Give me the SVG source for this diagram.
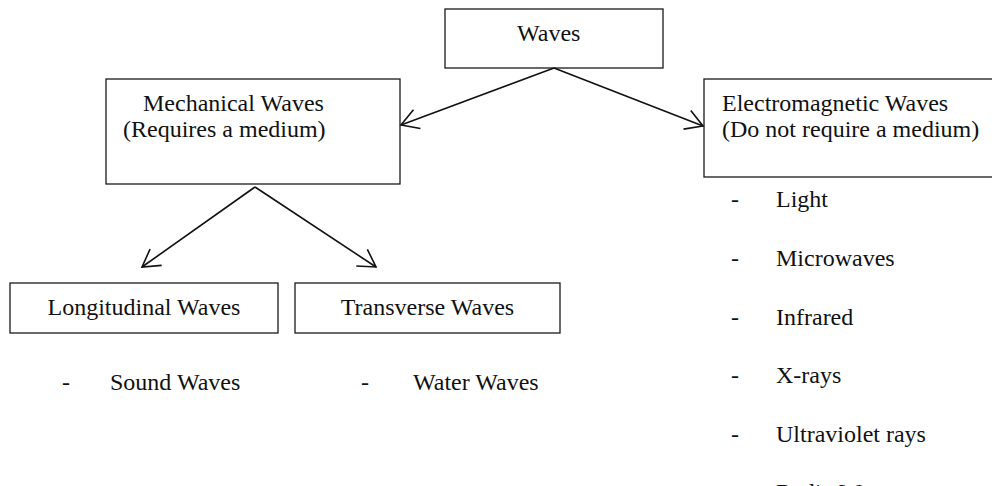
<svg xmlns="http://www.w3.org/2000/svg" width="992" height="486" viewBox="0 0 992 486">
  <style>
    .box { fill: #ffffff; stroke: #1a1a1a; stroke-width: 1.3; }
    .label { font-family: "Liberation Serif", "Times New Roman", serif; font-size: 24px; fill: #111111; }
    .link { fill: none; stroke: #111111; stroke-width: 1.6; }
  </style>
  <defs>
    <marker id="arrow" markerUnits="userSpaceOnUse" viewBox="-20 -12 22 24" refX="0" refY="0" markerWidth="22" markerHeight="24" orient="auto" overflow="visible">
      <path d="M -17 -10 L 0 0 L -17 10" fill="none" stroke="#111111" stroke-width="1.6"/>
    </marker>
  </defs>

  <rect width="992" height="486" fill="#ffffff"/>

  <g id="waves">
    <rect class="box" x="445" y="9" width="218" height="59"/>
    <text class="label" x="517" y="41">Waves</text>
  </g>

  <g id="mechanical">
    <rect class="box" x="106" y="79" width="294" height="105"/>
    <text class="label" x="143" y="111">Mechanical Waves</text>
    <text class="label" x="123" y="137">(Requires a medium)</text>
  </g>

  <g id="electromagnetic">
    <rect class="box" x="704" y="79" width="300" height="98"/>
    <text class="label" x="722" y="111">Electromagnetic Waves</text>
    <text class="label" x="722" y="137">(Do not require a medium)</text>
  </g>

  <g id="longitudinal">
    <rect class="box" x="10" y="283" width="268" height="50"/>
    <text class="label" x="144" y="315" text-anchor="middle">Longitudinal Waves</text>
  </g>

  <g id="transverse">
    <rect class="box" x="295" y="283" width="265" height="50"/>
    <text class="label" x="427.5" y="315" text-anchor="middle">Transverse Waves</text>
  </g>

  <g id="longitudinal-examples">
    <text class="label" x="62" y="390">-</text>
    <text class="label" x="110" y="390">Sound Waves</text>
  </g>

  <g id="transverse-examples">
    <text class="label" x="361" y="390">-</text>
    <text class="label" x="413" y="390">Water Waves</text>
  </g>

  <g id="electromagnetic-examples">
    <text class="label" x="731" y="207">-</text>
    <text class="label" x="776" y="207">Light</text>
    <text class="label" x="731" y="266">-</text>
    <text class="label" x="776" y="266">Microwaves</text>
    <text class="label" x="731" y="325">-</text>
    <text class="label" x="776" y="325">Infrared</text>
    <text class="label" x="731" y="383">-</text>
    <text class="label" x="776" y="383">X-rays</text>
    <text class="label" x="731" y="442">-</text>
    <text class="label" x="776" y="442">Ultraviolet rays</text>
    <text class="label" x="731" y="500">-</text>
    <text class="label" x="776" y="500">Radio Waves</text>
  </g>

  <g id="connectors">
    <line class="link" x1="554" y1="68" x2="401" y2="125" marker-end="url(#arrow)"/>
    <line class="link" x1="554" y1="68" x2="703" y2="126" marker-end="url(#arrow)"/>
    <line class="link" x1="255" y1="187" x2="142" y2="267" marker-end="url(#arrow)"/>
    <line class="link" x1="255" y1="187" x2="376" y2="267" marker-end="url(#arrow)"/>
  </g>
</svg>
